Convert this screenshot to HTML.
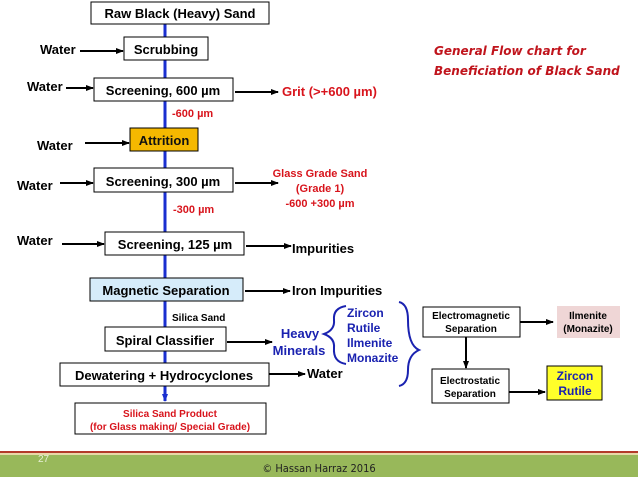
<!DOCTYPE html>
<html><head><meta charset="utf-8"><style>
html,body{margin:0;padding:0;background:#fff;}
svg{display:block;font-family:"Liberation Sans",Arial,sans-serif;}
</style></head><body>
<svg width="638" height="479" viewBox="0 0 638 479" xmlns="http://www.w3.org/2000/svg">
<defs>
<marker id="a" markerWidth="8" markerHeight="8" refX="7" refY="4" orient="auto" markerUnits="userSpaceOnUse"><path d="M0,1 L8,4 L0,7 z" fill="#000"/></marker>
<marker id="b" markerWidth="8" markerHeight="8" refX="7" refY="4" orient="auto" markerUnits="userSpaceOnUse"><path d="M0,1 L8,4 L0,7 z" fill="#1a2fd0"/></marker>
</defs>
<!-- main blue line -->
<line x1="165" y1="24" x2="165" y2="401" stroke="#1a2fd0" stroke-width="3" marker-end="url(#b)"/>
<g stroke="#000" stroke-width="1">
<rect x="91" y="2" width="178" height="22" fill="#fff"/>
<rect x="124" y="37" width="84" height="23" fill="#fff"/>
<rect x="94" y="78" width="139" height="23" fill="#fff"/>
<rect x="130" y="128" width="68" height="23" fill="#f5b800"/>
<rect x="94" y="168" width="139" height="24" fill="#fff"/>
<rect x="105" y="232" width="139" height="23" fill="#fff"/>
<rect x="90" y="278" width="153" height="23" fill="#d6ecfa"/>
<rect x="105" y="327" width="121" height="24" fill="#fff"/>
<rect x="60" y="363" width="209" height="23" fill="#fff"/>
<rect x="75" y="403" width="191" height="31" fill="#fff"/>
<rect x="423" y="307" width="97" height="30" fill="#fff"/>
<rect x="432" y="369" width="77" height="34" fill="#fff"/>
<rect x="547" y="366" width="55" height="34" fill="#ffff2a"/>
</g>
<rect x="557" y="306" width="63" height="32" fill="#efd6d6"/>
<g stroke="#000" stroke-width="2" marker-end="url(#a)">
<line x1="80" y1="51" x2="123" y2="51"/>
<line x1="66" y1="88" x2="93" y2="88"/>
<line x1="235" y1="92" x2="278" y2="92"/>
<line x1="85" y1="143" x2="129" y2="143"/>
<line x1="60" y1="183" x2="93" y2="183"/>
<line x1="235" y1="183" x2="278" y2="183"/>
<line x1="62" y1="244" x2="104" y2="244"/>
<line x1="246" y1="246" x2="291" y2="246"/>
<line x1="245" y1="291" x2="290" y2="291"/>
<line x1="227" y1="342" x2="272" y2="342"/>
<line x1="269" y1="374" x2="305" y2="374"/>
<line x1="520" y1="322" x2="553" y2="322"/>
<line x1="466" y1="337" x2="466" y2="368"/>
<line x1="509" y1="392" x2="545" y2="392"/>
</g>
<g font-weight="bold" font-size="13" fill="#000">
<text x="180" y="18" text-anchor="middle">Raw Black (Heavy) Sand</text>
<text x="166" y="54" text-anchor="middle">Scrubbing</text>
<text x="163" y="95" text-anchor="middle">Screening, 600 µm</text>
<text x="164" y="145" text-anchor="middle" fill="#111">Attrition</text>
<text x="163" y="186" text-anchor="middle">Screening, 300 µm</text>
<text x="175" y="249" text-anchor="middle">Screening, 125 µm</text>
<text x="166" y="295" text-anchor="middle">Magnetic Separation</text>
<text x="165" y="345" text-anchor="middle">Spiral Classifier</text>
<text x="164" y="380" text-anchor="middle">Dewatering + Hydrocyclones</text>
<text x="40" y="54">Water</text>
<text x="27" y="91">Water</text>
<text x="37" y="150">Water</text>
<text x="17" y="190">Water</text>
<text x="17" y="245">Water</text>
<text x="292" y="253">Impurities</text>
<text x="292" y="295">Iron Impurities</text>
<text x="307" y="378">Water</text>
</g>
<g font-weight="bold" fill="#d8141c">
<text x="282" y="96" font-size="13">Grit (&gt;+600 µm)</text>
<text x="172" y="117" font-size="11">-600 µm</text>
<text x="173" y="213" font-size="11">-300 µm</text>
<text x="320" y="177" font-size="11" text-anchor="middle">Glass Grade Sand</text>
<text x="320" y="192" font-size="11" text-anchor="middle">(Grade 1)</text>
<text x="320" y="207" font-size="11" text-anchor="middle">-600 +300 µm</text>
<text x="170" y="417" font-size="10" text-anchor="middle">Silica Sand Product</text>
<text x="170" y="430" font-size="10" text-anchor="middle">(for Glass making/ Special Grade)</text>
</g>
<text x="172" y="321" font-size="10" font-weight="bold">Silica Sand</text>
<g font-weight="bold" fill="#1a22b0">
<text x="300" y="338" font-size="13" text-anchor="middle">Heavy</text>
<text x="299" y="355" font-size="13" text-anchor="middle">Minerals</text>
<text x="347" y="317" font-size="12">Zircon</text>
<text x="347" y="332" font-size="12">Rutile</text>
<text x="347" y="347" font-size="12">Ilmenite</text>
<text x="347" y="362" font-size="12">Monazite</text>
</g>
<g fill="none" stroke="#1a22b0" stroke-width="2">
<path d="M346,306 Q333,308 334,320 Q335,330 324,334 Q335,338 334,348 Q333,362 346,364"/>
<path d="M399,302 Q408,304 408,320 Q408,345 419,350 Q408,355 408,370 Q408,384 399,386"/>
</g>
<g font-weight="bold" font-size="10" text-anchor="middle" fill="#000">
<text x="471" y="319">Electromagnetic</text>
<text x="471" y="332">Separation</text>
<text x="470" y="384">Electrostatic</text>
<text x="470" y="397">Separation</text>
<text x="588" y="319">Ilmenite</text>
<text x="588" y="332">(Monazite)</text>
</g>
<g font-weight="bold" font-size="12" text-anchor="middle" fill="#1a22b0">
<text x="575" y="380">Zircon</text>
<text x="575" y="395">Rutile</text>
</g>
<g font-style="italic" font-weight="bold" font-size="13" fill="#c0141c" font-family="'DejaVu Sans','Liberation Sans',sans-serif">
<text x="434" y="55" font-size="12">General Flow chart for</text>
<text x="434" y="75" font-size="12">Beneficiation of Black Sand</text>
</g>
<!-- footer -->
<rect x="0" y="451" width="638" height="2" fill="#b33a2a"/>
<rect x="0" y="453" width="638" height="2" fill="#e8d8a8"/>
<rect x="0" y="455" width="638" height="22" fill="#98b85a"/>
<text x="38" y="462" font-size="10" fill="#e8f0d8">27</text>
<text x="319" y="472" font-size="11" text-anchor="middle" fill="#222" font-family="'DejaVu Sans Condensed','Liberation Sans Narrow','Liberation Sans',sans-serif">© Hassan Harraz 2016</text>
</svg>
</body></html>
